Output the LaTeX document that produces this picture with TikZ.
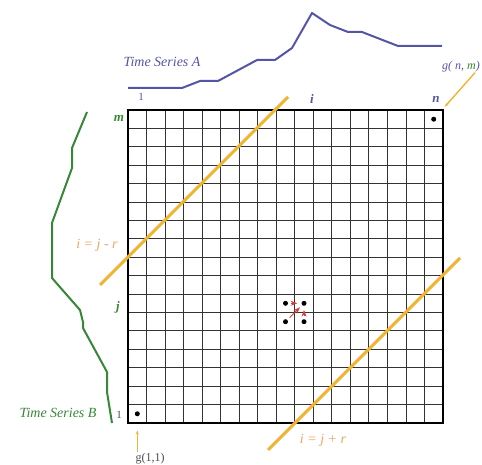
\documentclass[tikz,border=0pt]{standalone}
\usepackage{fontspec}
\setmainfont{Liberation Serif}
\usetikzlibrary{arrows.meta, positioning, calc}

\definecolor{seriesA}{RGB}{85,85,165}
\definecolor{seriesB}{RGB}{55,135,55}
\definecolor{band}{RGB}{240,180,50}
\definecolor{bandtext}{RGB}{238,165,90}
\definecolor{stepred}{RGB}{215,60,50}

\begin{document}
\begin{tikzpicture}[x=1pt, y=-1pt,
        >=Stealth,
        every node/.style={font=\fontsize{11}{13}\selectfont},
        gridline/.style={draw=black!80, line width=0.9pt},
        curveA/.style={draw=seriesA, line width=2pt, line join=round},
        curveB/.style={draw=seriesB, line width=2pt, line join=round},
        bandline/.style={draw=band, line width=3pt},
        pointer/.style={draw=band, line width=1.4pt, -{Stealth[length=4pt]}},
        stepline/.style={draw=stepred, line width=0.8pt, ->},
        tslabel/.style={font=\fontsize{14}{16}\selectfont\itshape, inner sep=1pt},
        idxlabel/.style={font=\fontsize{13}{15}\selectfont\bfseries\itshape, inner sep=1pt},
        cell/.style={circle, fill=black, inner sep=0pt, minimum size=5pt}
    ]
        \useasboundingbox (0,0) rectangle (482,465);

        % Grid
        \foreach \k in {0,...,17} {
            \draw[gridline] ({128+\k*18.53},110) -- ({128+\k*18.53},423);
            \draw[gridline] (128,{110+\k*18.41}) -- (443,{110+\k*18.41});
        }
        \draw[line width=1.6pt] (128,110) rectangle (443,423);

        % Time series
        \draw[curveA] (128,88) -- (182,88) -- (200,81) -- (218,81) -- (257,60) -- (275,60)
            -- (292,48) -- (312,13) -- (330,25) -- (348,32) -- (362,32) -- (398,46) -- (442,46);
        \draw[curveB] (87,112) -- (72,148) -- (72,168) -- (52,223) -- (52,278) -- (80,310)
            -- (83,322) -- (83,328) -- (107,372) -- (107,392) -- (112,423);

        % Band lines
        \draw[bandline] (100,285) -- (288,97);
        \draw[bandline] (268,450) -- (460,258);

        % Nodes
        \node[cell] (dNM) at (433.7,119.2) {};
        \node[cell] (d11) at (137.3,413.8) {};
        \node[cell] (dLT) at (285.5,303.3) {};
        \node[cell] (dRT) at (304.0,303.3) {};
        \node[cell] (dLB) at (285.5,321.7) {};
        \node[cell] (dRB) at (304.0,321.7) {};

        \node[tslabel, text=seriesA] (tsA) at (162,62) {Time Series A};
        \node[tslabel, text=seriesB] (tsB) at (58,413) {Time Series B};
        \node[inner sep=1pt, text=seriesA] (oneA) at (141,97) {1};
        \node[inner sep=1pt, text=black!70] (oneB) at (119,415) {1};
        \node[idxlabel, text=seriesA] (idxI) at (312,99) {i};
        \node[idxlabel, text=seriesA] (idxN) at (436,99) {n};
        \node[idxlabel, text=seriesB] (idxM) at (119,118) {m};
        \node[idxlabel, text=seriesB] (idxJ) at (118,307) {j};
        \node[tslabel, text=bandtext] (bandUp) at (97,245) {i = j - r};
        \node[tslabel, text=bandtext] (bandLo) at (323,440) {i = j + r};
        \node[tslabel, font=\fontsize{12}{14}\selectfont\itshape, anchor=east, text=seriesA] (gNM) at (481,67) {g( n, \textcolor{seriesB}{m})};
        \node[tslabel, font=\fontsize{12}{14}\selectfont, text=black!70] (g11) at (150,459) {g(1,1)};

        % Arrows
        \draw[pointer, shorten >=14pt] (d11 |- g11.north) -- (d11);
        \draw[pointer, shorten >=14pt] ($(gNM.south east)+(-6,-1)$) -- (dNM);
        \draw[stepline, shorten >=3pt, shorten <=3pt] (dLB) -- (dRT);
        \draw[stepline, shorten >=4pt, shorten <=3pt] (dLT) -- (dRT);
        \draw[stepline, shorten >=4pt, shorten <=3pt] (dRB) -- (dRT);
    \end{tikzpicture}
\end{document}
